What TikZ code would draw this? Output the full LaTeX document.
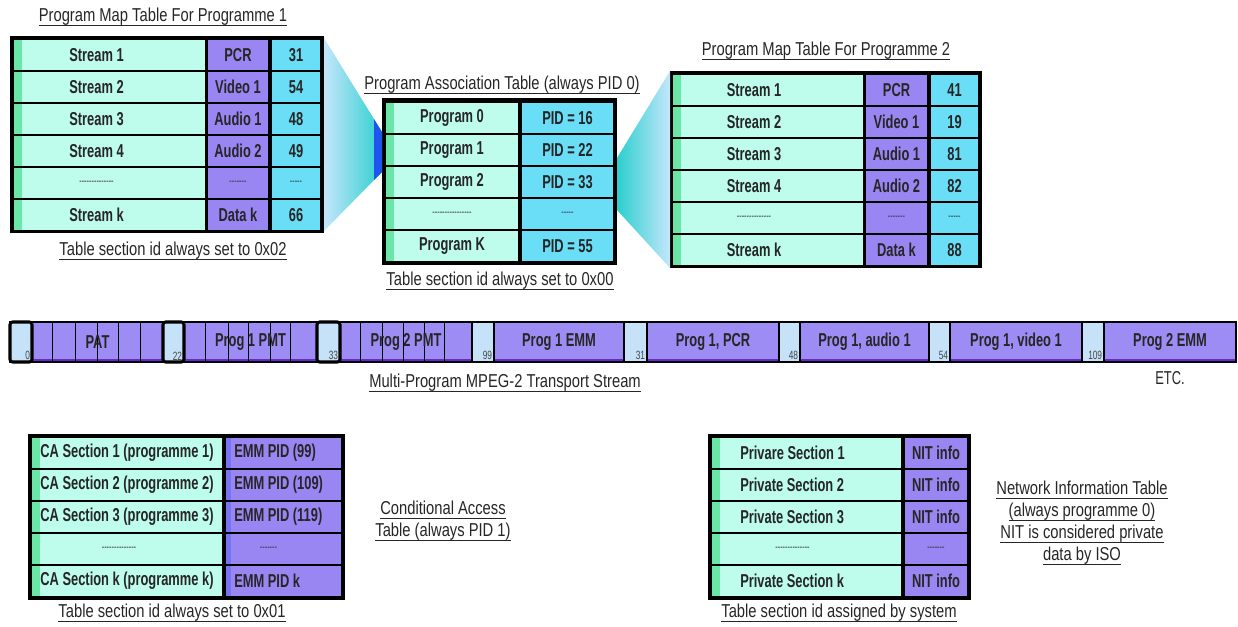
\documentclass[tikz,border=0pt]{standalone}
\usepackage{fontspec}
\setmainfont{Liberation Sans}[FakeStretch=0.69]
\newfontfamily\ttlfont{Liberation Sans}[FakeStretch=0.79]
\usetikzlibrary{calc}

% one pixel of the drawing grid
\newdimen\px \px=0.75pt

\definecolor{cellcyan}{HTML}{BEFDEC}
\definecolor{cellstrip}{HTML}{6AE6A6}
\definecolor{cellpurple}{HTML}{9A86F2}
\definecolor{purpleedge}{HTML}{7474F4}
\definecolor{cellblue}{HTML}{6ADEF6}
\definecolor{inkgray}{HTML}{262626}
\definecolor{tsbox}{HTML}{C6E2F8}
\definecolor{tspurple}{HTML}{9C8CF4}
\definecolor{tsedge}{HTML}{6A2ACB}
\definecolor{fanlight}{HTML}{C4E6FB}
\definecolor{fandark}{HTML}{2CCFCF}
\definecolor{fantip}{HTML}{1F55EE}

% underline at a fixed distance under the baseline
\newcommand\uln[1]{{\setbox0\hbox{#1}\dimen0=\wd0 \box0\kern-\dimen0\rule[-3.2pt]{\dimen0}{0.9pt}}}
% row of small dashes standing for "and so on"
\newcommand\dashfill[1]{{\fontsize{8}{9}\selectfont\mdseries\foreach\k in {1,...,#1}{-}}}
% rectangle node from its top-left to its bottom-right corner (pixel grid)
\newcommand\boxat[6]{\node[#2, minimum width={(#5-(#3))*\px}, minimum height={(#6-(#4))*\px}] (#1) at (#3,#4) {};}

\tikzset{
  cellbox/.style={draw=none, inner sep=0pt, outer sep=0pt, anchor=north west},
  frame/.style={cellbox, fill=black},
  stripcell/.style={cellbox, fill=cellcyan,
    path picture={\fill[cellstrip] (path picture bounding box.north west)
      rectangle ([xshift=8*\px]path picture bounding box.south west);}},
  purplecell/.style={cellbox, fill=cellpurple},
  purplestrip/.style={cellbox, fill=cellpurple,
    path picture={\fill[purpleedge] (path picture bounding box.north west)
      rectangle ([xshift=5*\px]path picture bounding box.south west);}},
  bluecell/.style={cellbox, fill=cellblue},
  celltext/.style={font=\fontsize{14}{16}\selectfont\bfseries, text=inkgray, inner sep=0pt},
  ttl/.style={font=\ttlfont\fontsize{14}{16.5}\selectfont, text=inkgray, inner sep=0pt, align=center},
  tsbar/.style={cellbox, fill=tspurple, draw=black, line width=1.5pt},
  tsboxthin/.style={cellbox, fill=tsbox, draw=black, line width=1.2pt},
  tsboxthick/.style={cellbox, fill=tsbox, draw=black, line width=2.3pt, rounded corners=2pt},
  tsnum/.style={font=\fontsize{9}{10}\selectfont, text=inkgray!85, inner sep=0.5pt},
  tslabel/.style={font=\fontsize{14}{16}\selectfont\bfseries, text=inkgray, inner sep=0pt},
  divider/.style={draw=black, line width=0.7pt},
}

\begin{document}
\begin{tikzpicture}[x=0.75pt, y=-0.75pt]
\useasboundingbox (0,0) rectangle (1238,627);

% ---------------- Program Map Table, programme 1
\boxat{pmt1}{frame}{10}{36}{324}{233}
\foreach \i/\sa/\sb/\sc in {0/Stream 1/PCR/31, 1/Stream 2/Video 1/54, 2/Stream 3/Audio 1/48,
    3/Stream 4/Audio 2/49, 4/\dashfill{14}/\dashfill{7}/\dashfill{5}, 5/Stream k/Data k/66}{
  \pgfmathsetmacro\yt{40+32*\i}
  \boxat{ma\i}{stripcell}{14}{\yt}{205}{\yt+30}
  \boxat{mb\i}{purplecell}{208}{\yt}{268}{\yt+30}
  \boxat{mc\i}{bluecell}{272}{\yt}{320}{\yt+30}
  \node[celltext] (mat\i) at ($(ma\i.center)+(-13,0)$) {\sa};
  \node[celltext] (mbt\i) at (mb\i.center) {\sb};
  \node[celltext] (mct\i) at (mc\i.center) {\sc};
}
\node[ttl] (t-pmt1) at (163,17) {\uln{Program Map Table For Programme 1}};
\node[ttl] (c-pmt1) at (173,251) {\uln{Table section id always set to 0x02}};

% ---------------- Program Association Table
\boxat{pat}{frame}{382}{98}{617}{265}
\foreach \i/\sa/\sb in {0/Program 0/PID = 16, 1/Program 1/PID = 22, 2/Program 2/PID = 33,
    3/\dashfill{16}/\dashfill{5}, 4/Program K/PID = 55}{
  \pgfmathsetmacro\yt{103+32*\i}
  \boxat{pa\i}{stripcell}{386}{\yt}{518}{\yt+30}
  \boxat{pb\i}{bluecell}{522}{\yt}{613}{\yt+30}
  \node[celltext] (pat\i) at (pa\i.center) {\sa};
  \node[celltext] (pbt\i) at (pb\i.center) {\sb};
}
\node[ttl] (t-pat) at (502,85) {\uln{Program Association Table (always PID 0)}};
\node[ttl] (c-pat) at (500,281) {\uln{Table section id always set to 0x00}};

% ---------------- Program Map Table, programme 2
\boxat{pmt2}{frame}{670}{71}{982}{268}
\foreach \i/\sa/\sb/\sc in {0/Stream 1/PCR/41, 1/Stream 2/Video 1/19, 2/Stream 3/Audio 1/81,
    3/Stream 4/Audio 2/82, 4/\dashfill{14}/\dashfill{7}/\dashfill{5}, 5/Stream k/Data k/88}{
  \pgfmathsetmacro\yt{75+32*\i}
  \boxat{na\i}{stripcell}{673}{\yt}{863}{\yt+30}
  \boxat{nb\i}{purplecell}{866}{\yt}{927}{\yt+30}
  \boxat{nc\i}{bluecell}{931}{\yt}{978}{\yt+30}
  \node[celltext] (nat\i) at ($(na\i.center)+(-14,0)$) {\sa};
  \node[celltext] (nbt\i) at (nb\i.center) {\sb};
  \node[celltext] (nct\i) at (nc\i.center) {\sc};
}
\node[ttl] (t-pmt2) at (826,51) {\uln{Program Map Table For Programme 2}};

% ---------------- funnels: PMT 1 -> Program 1, Program 2 -> PMT 2
\coordinate (fa) at ($(pmt1.north east)+(0,2)$);
\coordinate (fb) at ($(pa1.north west)+(-4,-3)$);
\coordinate (fc) at ($(pa1.south west)+(-4,7)$);
\coordinate (fd) at ($(pmt1.south east)+(0,-2)$);
\shade[left color=fanlight, right color=fandark] (fa) -- (fb) -- (fc) -- (fd) -- cycle;
\begin{scope}
  \clip (fa) -- (fb) -- (fc) -- (fd) -- cycle;
  \fill[fantip] ($(fb)+(-8,-20)$) rectangle ($(fc)+(0,20)$);
\end{scope}

\coordinate (ga) at ($(pb2.north east)+(4,-9)$);
\coordinate (gb) at (pmt2.north west);
\coordinate (gc) at (pmt2.south west);
\coordinate (gd) at ($(pb2.south east)+(4,13)$);
\shade[left color=fandark, right color=fanlight] (ga) -- (gb) -- (gc) -- (gd) -- cycle;

% ---------------- transport stream
\boxat{ts}{tsbar}{10}{322}{1236}{362}
\draw[tsedge, line width=1.2pt] (11,360) -- (1235,360);
\foreach \x in {52,75,97,118,140, 205,228,248,270,290, 360,382,403,424,444}
  \draw[divider] (\x,323) -- (\x,361);
\foreach \nm/\xa/\xb/\lab/\st in {b0/10/32/0/tsboxthick, b22/163/184/22/tsboxthick,
    b33/317/340/33/tsboxthick, b99/472/494/99/tsboxthin, b31/624/647/31/tsboxthin,
    b48/779/800/48/tsboxthin, b54/929/950/54/tsboxthin, b109/1082/1104/109/tsboxthin}{
  \boxat{\nm}{\st}{\xa}{322}{\xb}{362}
  \node[tsnum, anchor=south east] (\nm n) at ($(\nm.south east)+(-1,-1)$) {\lab};
}
\node[tslabel] (l-pat)  at ($(b0.east)!0.5!(b22.west)$)   {PAT};
\node[tslabel] (l-pm1)  at ($(b22.east)!0.5!(b33.west)$)  {Prog 1 PMT};
\node[tslabel] (l-pm2)  at ($(b33.east)!0.5!(b99.west)$)  {Prog 2 PMT};
\node[tslabel] (l-em1)  at ($(b99.east)!0.5!(b31.west)$)  {Prog 1 EMM};
\node[tslabel] (l-pcr)  at ($(b31.east)!0.5!(b48.west)$)  {Prog 1, PCR};
\node[tslabel] (l-aud)  at ($(b48.east)!0.5!(b54.west)$)  {Prog 1, audio 1};
\node[tslabel] (l-vid)  at ($(b54.east)!0.5!(b109.west)$) {Prog 1, video 1};
\node[tslabel] (l-em2)  at ($(b109.east)!0.5!(ts.east)$)  {Prog 2 EMM};
\node[ttl] (c-ts) at (505,383) {\uln{Multi-Program MPEG-2 Transport Stream}};
\node[font=\fontsize{14}{16}\selectfont, text=inkgray, inner sep=0pt] (etc) at (1170,378) {ETC.};

% ---------------- Conditional Access Table
\boxat{cat}{frame}{28}{434}{345}{600}
\foreach \i/\sa/\sb in {0/CA Section 1 (programme 1)/EMM PID (99), 1/CA Section 2 (programme 2)/EMM PID (109),
    2/CA Section 3 (programme 3)/EMM PID (119), 4/CA Section k (programme k)/EMM PID k}{
  \pgfmathsetmacro\yt{438+32*\i}
  \boxat{ca\i}{stripcell}{32}{\yt}{222}{\yt+30}
  \boxat{cb\i}{purplestrip}{226}{\yt}{341}{\yt+30}
  \node[celltext] (cat\i) at (ca\i.center) {\sa};
  \node[celltext, anchor=west] (cbt\i) at ($(cb\i.west)+(8,0)$) {\sb};
}
\boxat{ca3}{stripcell}{32}{534}{222}{564}
\boxat{cb3}{purplestrip}{226}{534}{341}{564}
\node[celltext] (cat3) at ($(ca3.center)+(-8,0)$) {\dashfill{14}};
\node[celltext] (cbt3) at ($(cb3.center)+(-15,0)$) {\dashfill{7}};
\node[ttl] (c-cat) at (172,613) {\uln{Table section id always set to 0x01}};
\node[ttl] (d-cat) at (443,521) {\uln{Conditional Access}\\\uln{Table (always PID 1)}};

% ---------------- Network Information Table
\boxat{nit}{frame}{708}{434}{971}{600}
\foreach \i/\sa in {0/Privare Section 1, 1/Private Section 2, 2/Private Section 3, 4/Private Section k}{
  \pgfmathsetmacro\yt{438+32*\i}
  \boxat{ia\i}{stripcell}{712}{\yt}{901}{\yt+30}
  \boxat{ib\i}{purplecell}{905}{\yt}{967}{\yt+30}
  \node[celltext, anchor=west] (iat\i) at ($(ia\i.west)+(28,0)$) {\sa};
  \node[celltext] (ibt\i) at (ib\i.center) {NIT info};
}
\boxat{ia3}{stripcell}{712}{534}{901}{564}
\boxat{ib3}{purplecell}{905}{534}{967}{564}
\node[celltext] (iat3) at ($(ia3.center)+(-14,0)$) {\dashfill{14}};
\node[celltext] (ibt3) at (ib3.center) {\dashfill{7}};
\node[ttl] (c-nit) at (839,613) {\uln{Table section id assigned by system}};
\node[ttl] (d-nit) at (1082,523) {\uln{Network Information Table}\\\uln{(always programme 0)}\\
  \uln{NIT is considered private}\\\uln{data by ISO}};

\end{tikzpicture}
\end{document}
